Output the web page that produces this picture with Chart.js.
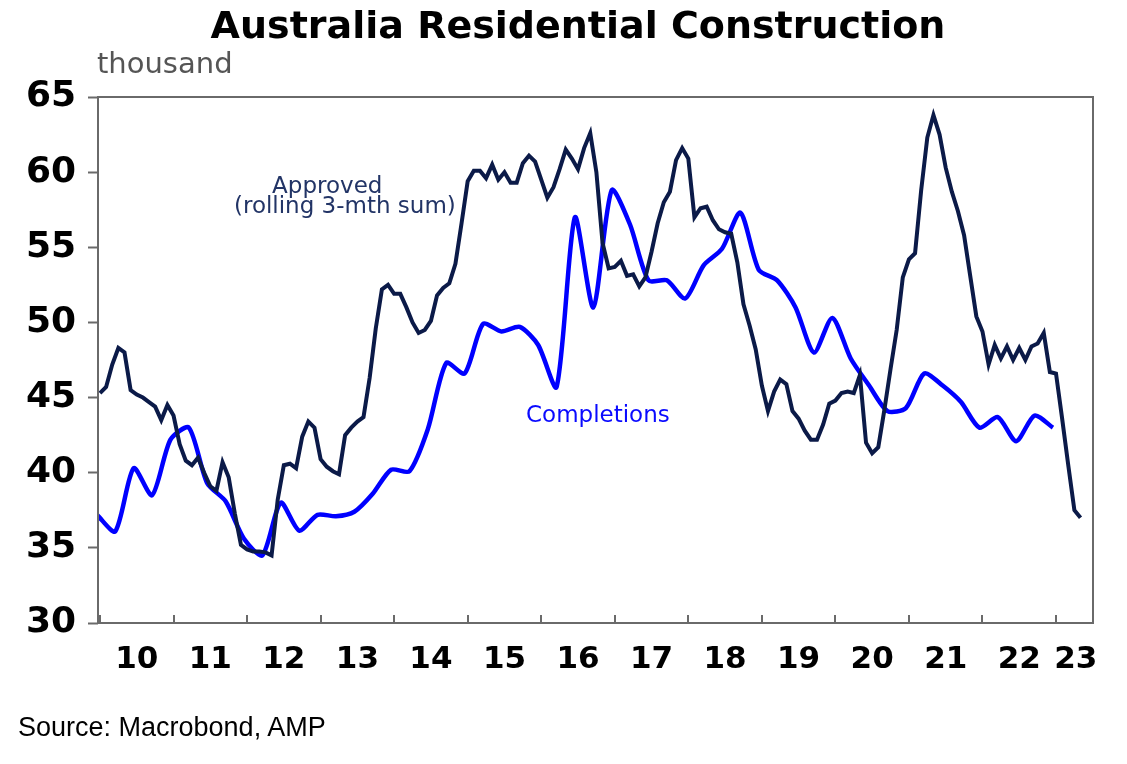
<!DOCTYPE html>
<html><head><meta charset="utf-8">
<script src="https://cdn.jsdelivr.net/npm/chart.js@4.4.0/dist/chart.umd.min.js"></script>
<style>
html,body{margin:0;padding:0;background:#fff;}
#wrap{position:relative;width:1127px;height:764px;}
#source{position:absolute;left:18px;top:714px;font:27px/27px 'Liberation Sans',Arial,sans-serif;color:#000;white-space:nowrap;}
</style></head><body>
<div id="wrap"><canvas id="c"></canvas><div id="source">Source: Macrobond, AMP</div></div>
<script>
const titleText = 'Australia Residential Construction';
const unitText = 'thousand';

// Approved dwellings, rolling 3-month sum, monthly from Jan 2010
const approvedStartYear = 2010;
const approvedValues = [
  45.3,45.7,47.2,48.3,48.0,45.5,45.2,45.0,44.7,44.4,43.5,44.5,
  43.8,41.9,40.8,40.5,41.0,40.0,39.1,38.8,40.7,39.7,37.3,35.2,
  34.9,34.75,34.75,34.7,34.5,38.2,40.5,40.6,40.3,42.4,43.4,43.0,
  40.9,40.4,40.1,39.9,42.5,43.0,43.4,43.7,46.3,49.6,52.2,52.5,
  51.9,51.9,51.0,50.0,49.3,49.5,50.1,51.8,52.3,52.6,53.9,56.6,
  59.4,60.1,60.1,59.6,60.5,59.5,60.0,59.3,59.3,60.6,61.1,60.7,
  59.5,58.3,59.0,60.2,61.5,60.9,60.2,61.6,62.6,60.0,55.3,53.6,
  53.7,54.1,53.1,53.2,52.4,53.0,54.7,56.6,58.0,58.7,60.8,61.6,
  60.9,57.0,57.6,57.7,56.8,56.2,56.0,55.9,54.0,51.2,49.8,48.2,
  45.8,44.1,45.4,46.2,45.9,44.1,43.6,42.8,42.2,42.2,43.2,44.6,
  44.8,45.3,45.4,45.3,46.5,42.0,41.3,41.7,44.2,46.9,49.5,53.0,
  54.2,54.6,58.8,62.3,63.8,62.5,60.3,58.7,57.4,55.8,53.1,50.4,
  49.4,47.2,48.5,47.6,48.4,47.5,48.3,47.5,48.4,48.6,49.3,46.7,
  46.6,43.6,40.5,37.5,37.0
];

// Dwelling completions, quarterly from Q4 2009
const completionsStartYear = 2009.75;
const completionsValues = [
  37.2,
  36.1,40.3,38.5,42.2,
  43.0,39.3,38.1,35.6,
  34.5,38.0,36.15,37.2,
  37.1,37.4,38.6,40.2,
  40.1,42.9,47.3,46.6,
  49.9,49.4,49.7,48.5,
  45.7,57.0,51.0,58.8,
  56.5,52.8,52.8,51.6,
  53.8,54.9,57.3,53.5,
  52.8,51.0,48.0,50.3,
  47.6,45.8,44.1,44.3,
  46.6,45.8,44.7,43.0,
  43.7,42.1,43.8,43.0
];

const xTickLabels = ['10','11','12','13','14','15','16','17','18','19','20','21','22','23'];
const xTickPositions = [2010.5,2011.5,2012.5,2013.5,2014.5,2015.5,2016.5,2017.5,2018.5,2019.5,2020.5,2021.5,2022.5,2023.27];
const yearMarks = [2010,2011,2012,2013,2014,2015,2016,2017,2018,2019,2020,2021,2022,2023];
const yMin = 30, yMax = 65, yStep = 5;

const annotations = [
  {text:'Approved', x:2013.09, y:58.61, color:'#223466'},
  {text:'(rolling 3-mth sum)', x:2013.33, y:57.28, color:'#223466'},
  {text:'Completions', x:2016.77, y:43.37, color:'#0a0aff'}
];

const approvedData = approvedValues.map((v,i)=>({x: approvedStartYear + i/12, y: v}));
const completionsData = completionsValues.map((v,i)=>({x: completionsStartYear + 2.5/12 + i*0.25, y: v}));

const FONT = "'DejaVu Sans', sans-serif";
const frameColor = '#6a6a6a';

const decor = {
  id: 'decor',
  afterDraw(chart) {
    const {ctx, chartArea: a, scales: {x, y}} = chart;
    ctx.save();
    // frame
    ctx.strokeStyle = frameColor;
    ctx.lineWidth = 2;
    ctx.strokeRect(a.left, a.top, a.right - a.left, a.bottom - a.top);
    // year tick marks pointing into the plot
    yearMarks.forEach(yr => {
      const px = Math.round(x.getPixelForValue(yr));
      ctx.beginPath();
      ctx.moveTo(px, a.bottom);
      ctx.lineTo(px, a.bottom - 8);
      ctx.stroke();
    });
    // title
    ctx.fillStyle = '#000';
    ctx.textAlign = 'center';
    ctx.textBaseline = 'alphabetic';
    ctx.font = "bold 38px " + FONT;
    ctx.fillText(titleText, 578, 38);
    // unit
    ctx.textAlign = 'left';
    ctx.fillStyle = '#555555';
    ctx.font = "29px " + FONT;
    ctx.fillText(unitText, a.left - 1, 73);
    // annotations
    ctx.textAlign = 'center';
    ctx.font = "23px " + FONT;
    annotations.forEach(an => {
      ctx.fillStyle = an.color;
      ctx.fillText(an.text, x.getPixelForValue(an.x), y.getPixelForValue(an.y));
    });
    ctx.restore();
  }
};

new Chart(document.getElementById('c'), {
  type: 'line',
  data: {
    datasets: [
      {
        label: 'Approved (rolling 3-mth sum)',
        data: approvedData,
        borderColor: '#0b1a48',
        borderWidth: 4,
        pointRadius: 0,
        tension: 0,
        fill: false,
        clip: 0
      },
      {
        label: 'Completions',
        data: completionsData,
        borderColor: '#0000ff',
        borderWidth: 4.5,
        pointRadius: 0,
        tension: 0.25,
        fill: false,
        clip: 0
      }
    ]
  },
  options: {
    responsive: true,
    maintainAspectRatio: false,
    animation: false,
    layout: {padding: {left: 0, right: 34, top: 97, bottom: 81}},
    plugins: {legend: {display: false}, tooltip: {enabled: false}, title: {display: false}},
    scales: {
      x: {
        type: 'linear',
        min: 2009.973,
        max: 2023.503,
        afterBuildTicks: (s) => { s.ticks = xTickPositions.map(v => ({value: v})); },
        afterFit: (s) => { s.height = 60; },
        grid: {display: false, drawTicks: false},
        border: {display: false},
        ticks: {
          autoSkip: false, maxRotation: 0, minRotation: 0, padding: 18,
          color: '#000',
          font: {family: FONT, size: 31, weight: 'bold'},
          callback: (v, i) => xTickLabels[i]
        }
      },
      y: {
        min: yMin, max: yMax,
        afterFit: (s) => { s.width = 98; },
        grid: {drawOnChartArea: false, drawTicks: true, tickLength: 10, tickColor: frameColor, tickWidth: 2},
        border: {display: false},
        ticks: {
          stepSize: yStep, padding: 12, color: '#000',
          font: {family: FONT, size: 36, weight: 'bold'}
        }
      }
    }
  },
  plugins: [decor]
});
</script>
</body></html>
